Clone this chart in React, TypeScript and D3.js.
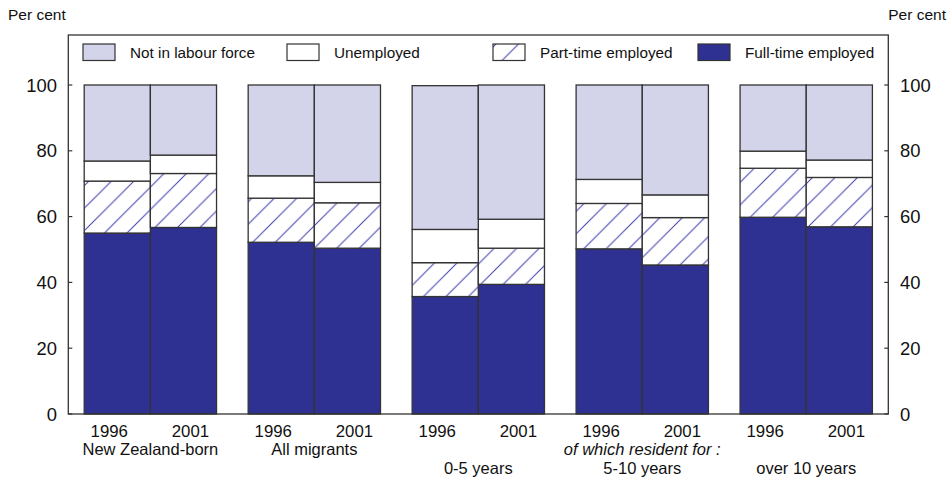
import React from "react";
import * as d3 from "d3";

// Groups and survey years
const groups = ["New Zealand-born", "All migrants", "0-5 years", "5-10 years", "over 10 years"];
const years = ["1996", "2001"];

// Shares of the population (%), per group, in [1996, 2001] order
const fullTime = [[55.0, 56.7], [52.2, 50.4], [35.7, 39.4], [50.2, 45.3], [59.8, 56.9]];
const partTime = [[15.8, 16.4], [13.4, 13.8], [10.3, 11.0], [13.8, 14.4], [14.9, 15.0]];
const unemployed = [[6.1, 5.6], [6.8, 6.2], [10.1, 8.8], [7.3, 6.9], [5.2, 5.3]];
const notInLabourForce = [[23.1, 21.3], [27.6, 29.6], [43.7, 40.8], [28.7, 33.4], [20.1, 22.8]];

const seriesKeys = ["full", "part", "unemp", "nilf"];
const legendLabels = ["Not in labour force", "Unemployed", "Part-time employed", "Full-time employed"];
const yTicks = [0, 20, 40, 60, 80, 100];

const W = 952;
const H = 481;
const FONT = "'Liberation Sans', Arial, Helvetica, sans-serif";
const NAVY = "#2e3192";
const LAVENDER = "#d3d3ea";
const EDGE = "#333333";

export default function App() {
  const left = 68.3;
  const right = 888.3;
  const top = 35;
  const bottom = 414;

  const y = d3.scaleLinear().domain([0, 100]).range([bottom, 85]);
  const xGroup = d3.scaleBand<string>().domain(groups).range([left, right]).paddingInner(0.193).paddingOuter(0.097);
  const xYear = d3.scaleBand<string>().domain(years).range([0, xGroup.bandwidth()]).padding(0);

  const rows: any[] = [];
  groups.forEach((g, gi) => {
    years.forEach((yr, yi) => {
      rows.push({
        group: g,
        year: yr,
        full: fullTime[gi][yi],
        part: partTime[gi][yi],
        unemp: unemployed[gi][yi],
        nilf: notInLabourForce[gi][yi],
      });
    });
  });
  const stacked = d3.stack<any>().keys(seriesKeys)(rows);

  const fills: Record<string, string> = {
    full: NAVY,
    part: "url(#hatch)",
    unemp: "#ffffff",
    nilf: LAVENDER,
  };

  const legendItems = [
    { label: legendLabels[0], fill: LAVENDER, x: 83 },
    { label: legendLabels[1], fill: "#ffffff", x: 287 },
    { label: legendLabels[2], fill: "url(#hatch)", x: 493 },
    { label: legendLabels[3], fill: NAVY, x: 698 },
  ];

  const subLabels = [
    { text: "New Zealand-born", gi: 0, yPos: 455, italic: false },
    { text: "All migrants", gi: 1, yPos: 455, italic: false },
    { text: "0-5 years", gi: 2, yPos: 474, italic: false },
    { text: "of which resident for :", gi: 3, yPos: 455, italic: true },
    { text: "5-10 years", gi: 3, yPos: 474, italic: false },
    { text: "over 10 years", gi: 4, yPos: 474, italic: false },
  ];

  return (
    <svg width={W} height={H} style={{ position: "absolute", left: 0, top: 0, background: "#fff" }} fontFamily={FONT}>
      <defs>
        <pattern id="hatch" patternUnits="userSpaceOnUse" width={22.5} height={22.5}>
          <rect width={22.5} height={22.5} fill="#ffffff" />
          <path d="M0,22.5 L22.5,0 M-2,2 L2,-2 M20.5,24.5 L24.5,20.5" stroke="#3f3fae" strokeWidth={1} />
        </pattern>
      </defs>

      {/* Bars */}
      {stacked.map((layer) => (
        <g key={layer.key}>
          {layer.map((d: any, i: number) => {
            const x0 = (xGroup(d.data.group) as number) + (xYear(d.data.year) as number);
            return (
              <rect
                key={i}
                x={x0}
                y={y(d[1])}
                width={xYear.bandwidth()}
                height={y(d[0]) - y(d[1])}
                fill={fills[layer.key]}
                stroke={EDGE}
                strokeWidth={1.3}
              />
            );
          })}
        </g>
      ))}

      {/* Plot frame */}
      <rect x={left} y={top} width={right - left} height={bottom - top} fill="none" stroke={EDGE} strokeWidth={1.3} />

      {/* Y axes: ticks point inward */}
      {yTicks.map((t) => (
        <g key={t}>
          <line x1={left} x2={left + 4} y1={y(t)} y2={y(t)} stroke={EDGE} strokeWidth={1.2} />
          <line x1={right - 4} x2={right} y1={y(t)} y2={y(t)} stroke={EDGE} strokeWidth={1.2} />
          <text x={57} y={y(t)} dy="0.36em" textAnchor="end" fontSize={18.4} fill="#111">
            {t}
          </text>
          <text x={900} y={y(t)} dy="0.36em" textAnchor="start" fontSize={18.4} fill="#111">
            {t}
          </text>
        </g>
      ))}
      <text x={8} y={20} fontSize={15.5} fill="#111">Per cent</text>
      <text x={946} y={20} fontSize={15.5} fill="#111" textAnchor="end">Per cent</text>

      {/* Legend */}
      {legendItems.map((it) => (
        <g key={it.label}>
          <rect x={it.x} y={44} width={32} height={16.5} fill={it.fill} stroke={EDGE} strokeWidth={1.2} />
          <text x={it.x + 47} y={52.5} dy="0.36em" fontSize={15.3} fill="#111">
            {it.label}
          </text>
        </g>
      ))}

      {/* Year labels, nudged outward from bar centres */}
      {groups.map((g) =>
        years.map((yr, yi) => {
          const cx = (xGroup(g) as number) + (xYear(yr) as number) + xYear.bandwidth() / 2 + (yi === 0 ? -8 : 7);
          return (
            <text key={g + yr} x={cx} y={437} textAnchor="middle" fontSize={16.8} fill="#111">
              {yr}
            </text>
          );
        })
      )}

      {/* Group labels */}
      {subLabels.map((s) => (
        <text
          key={s.text}
          x={(xGroup(groups[s.gi]) as number) + xGroup.bandwidth() / 2}
          y={s.yPos}
          textAnchor="middle"
          fontSize={16.5}
          fontStyle={s.italic ? "italic" : "normal"}
          fill="#111"
        >
          {s.text}
        </text>
      ))}
    </svg>
  );
}
